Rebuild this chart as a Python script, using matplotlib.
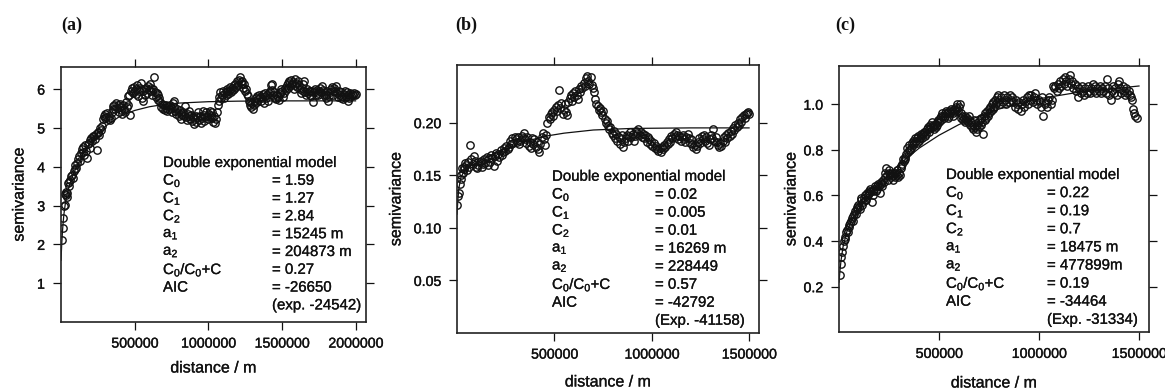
import matplotlib
matplotlib.use('Agg')
import matplotlib.pyplot as plt
import matplotlib.patheffects as pe

plt.rcParams['font.family'] = ['Liberation Sans', 'DejaVu Sans']
plt.rcParams['mathtext.fontset'] = 'custom'
plt.rcParams['mathtext.rm'] = 'Liberation Sans'
plt.rcParams['mathtext.it'] = 'Liberation Sans'
plt.rcParams['mathtext.default'] = 'regular'

# ---------------- data (distance in km, semivariance) ----------------
dist_a_km = [
    8, 12, 16, 20, 24, 28, 32, 36, 40, 44,
    48, 52, 56, 62, 68, 74, 80, 86, 92, 98,
    104, 110, 116, 122, 128, 134, 140, 146, 152, 158,
    164, 170, 176, 182, 188, 194, 200, 206, 212, 218,
    224, 230, 236, 242, 248, 254, 260, 266, 272, 278,
    284, 290, 296, 302, 308, 314, 320, 326, 332, 338,
    344, 350, 356, 362, 368, 374, 380, 386, 392, 398,
    404, 410, 416, 422, 428, 434, 440, 446, 452, 458,
    464, 470, 476, 482, 488, 494, 500, 506, 512, 518,
    524, 530, 536, 542, 548, 554, 560, 566, 572, 578,
    584, 590, 596, 602, 608, 614, 620, 626, 632, 638,
    644, 650, 656, 662, 668, 674, 680, 686, 692, 698,
    704, 710, 716, 722, 728, 734, 740, 746, 752, 758,
    764, 770, 776, 782, 788, 794, 800, 806, 812, 818,
    824, 830, 836, 842, 848, 854, 860, 866, 872, 878,
    884, 890, 896, 902, 908, 914, 920, 926, 932, 938,
    944, 950, 956, 962, 968, 974, 980, 986, 992, 998,
    1004, 1010, 1016, 1022, 1028, 1034, 1040, 1046, 1052, 1058,
    1064, 1070, 1076, 1082, 1088, 1094, 1100, 1106, 1112, 1118,
    1124, 1130, 1136, 1142, 1148, 1154, 1160, 1166, 1172, 1178,
    1184, 1190, 1196, 1202, 1208, 1214, 1220, 1226, 1232, 1238,
    1244, 1250, 1256, 1262, 1268, 1274, 1280, 1286, 1292, 1298,
    1304, 1310, 1316, 1322, 1328, 1334, 1340, 1346, 1352, 1358,
    1364, 1370, 1376, 1382, 1388, 1394, 1400, 1406, 1412, 1418,
    1424, 1430, 1436, 1442, 1448, 1454, 1460, 1466, 1472, 1478,
    1484, 1490, 1496, 1502, 1508, 1514, 1520, 1526, 1532, 1538,
    1544, 1550, 1556, 1562, 1568, 1574, 1580, 1586, 1592, 1598,
    1604, 1610, 1616, 1622, 1628, 1634, 1640, 1646, 1652, 1658,
    1664, 1670, 1676, 1682, 1688, 1694, 1700, 1706, 1712, 1718,
    1724, 1730, 1736, 1742, 1748, 1754, 1760, 1766, 1772, 1778,
    1784, 1790, 1796, 1802, 1808, 1814, 1820, 1826, 1832, 1838,
    1844, 1850, 1856, 1862, 1868, 1874, 1880, 1886, 1892, 1898,
    1904, 1910, 1916, 1922, 1928, 1934, 1940, 1946, 1952, 1958,
    1964, 1970, 1976, 1982, 1988, 1994, 2000]
gamma_a = [
    2.12, 2.42, 2.68, 2.98, 3.02, 3.30, 3.26, 3.36, 3.22, 3.33,
    3.58, 3.50, 3.60, 3.66, 3.75, 3.80, 3.72, 3.88, 3.95, 4.05,
    3.98, 4.10, 4.20, 4.28, 4.14, 4.35, 4.45, 4.50, 4.38, 4.30,
    4.55, 4.40, 4.22, 4.58, 4.62, 4.48, 4.70, 4.74, 4.66, 4.78,
    4.80, 4.72, 4.84, 4.44, 4.86, 4.90, 4.82, 5.00, 4.95, 5.05,
    5.22, 5.30, 5.26, 5.35, 5.28, 5.38, 5.22, 5.30, 5.20, 5.26,
    5.42, 5.56, 5.50, 5.60, 5.48, 5.64, 5.52, 5.58, 5.40, 5.62,
    5.55, 5.45, 5.36, 5.60, 5.50, 5.42, 5.66, 5.54, 5.82, 5.60,
    5.86, 5.34, 5.96, 6.04, 5.90, 6.06, 5.96, 6.00, 5.88, 6.10,
    5.82, 5.94, 6.04, 6.16, 5.76, 5.96, 5.70, 6.00, 5.84, 6.02,
    5.90, 6.08, 5.98, 6.12, 5.94, 6.04, 5.86, 6.00, 6.32, 5.92,
    5.80, 5.90, 5.72, 5.84, 5.76, 5.68, 5.54, 5.62, 5.50, 5.60,
    5.46, 5.58, 5.52, 5.44, 5.56, 5.48, 5.60, 5.52, 5.40, 5.64,
    5.70, 5.55, 5.44, 5.36, 5.50, 5.42, 5.30, 5.46, 5.38, 5.22,
    5.34, 5.40, 5.30, 5.56, 5.28, 5.20, 5.36, 5.44, 5.30, 5.22,
    5.34, 5.18, 5.28, 5.10, 5.24, 5.32, 5.16, 5.28, 5.40, 5.20,
    5.30, 5.14, 5.26, 5.44, 5.34, 5.18, 5.28, 5.40, 5.30, 5.22,
    5.36, 5.44, 5.30, 5.26, 5.40, 5.16, 5.30, 5.12, 5.24, 5.40,
    5.58, 5.70, 5.80, 5.92, 5.76, 5.86, 5.96, 5.78, 5.90, 5.84,
    5.94, 6.00, 5.88, 5.96, 6.06, 5.92, 6.02, 5.98, 6.10, 6.00,
    6.14, 6.06, 6.20, 6.10, 6.24, 6.30, 6.18, 6.12, 6.22, 6.04,
    6.12, 5.96, 6.00, 5.88, 5.82, 5.70, 5.60, 5.66, 5.54, 5.64,
    5.50, 5.60, 5.70, 5.78, 5.66, 5.82, 5.74, 5.86, 5.80, 5.70,
    5.76, 5.88, 5.64, 5.82, 5.90, 5.76, 5.84, 5.70, 5.90, 5.96,
    6.10, 6.12, 5.98, 5.86, 5.92, 5.78, 5.74, 5.86, 5.80, 5.72,
    5.92, 5.88, 6.00, 5.94, 5.80, 5.90, 6.04, 5.98, 6.10, 6.16,
    6.02, 6.20, 6.08, 6.24, 6.12, 6.18, 6.00, 6.10, 6.26, 6.16,
    6.06, 6.22, 6.10, 6.00, 5.90, 6.04, 5.96, 6.12, 6.20, 5.92,
    5.84, 6.00, 5.90, 5.96, 5.86, 5.94, 5.82, 5.96, 5.68, 5.92,
    6.00, 5.86, 5.98, 5.90, 5.84, 5.96, 6.04, 5.92, 6.08, 5.98,
    5.86, 5.90, 5.78, 5.84, 5.96, 5.70, 5.82, 5.92, 6.00, 6.06,
    5.94, 5.86, 6.02, 5.96, 6.08, 5.90, 5.80, 5.94, 5.86, 5.76,
    5.92, 5.82, 5.74, 5.88, 5.96, 5.80, 5.92, 5.70, 5.84, 5.78,
    5.90, 5.82, 5.88, 5.86, 5.90, 5.84, 5.88]
fit_a_km = [0, 5, 10, 15, 20, 30, 40, 60, 80, 100, 150, 200, 250, 300, 400,
            500, 600, 700, 800, 1000, 1200, 1500, 2000]
fit_a = [1.59, 2.013, 2.336, 2.585, 2.783, 3.069, 3.272, 3.556, 3.771, 3.954,
         4.334, 4.63, 4.862, 5.04, 5.30, 5.45, 5.546, 5.605, 5.64, 5.676,
         5.69, 5.697, 5.698]

dist_b_km = [
    2, 6, 10, 14, 18, 22, 26, 30, 34, 38,
    42, 46, 50, 56, 62, 68, 74, 80, 86, 92,
    98, 104, 110, 116, 122, 128, 134, 140, 146, 152,
    158, 164, 170, 176, 182, 188, 194, 200, 206, 212,
    218, 224, 230, 236, 242, 248, 254, 260, 266, 272,
    278, 284, 290, 296, 302, 308, 314, 320, 326, 332,
    338, 344, 350, 356, 362, 368, 374, 380, 386, 392,
    398, 404, 410, 416, 422, 428, 434, 440, 446, 452,
    458, 464, 470, 476, 482, 488, 494, 500, 506, 512,
    518, 524, 530, 536, 542, 548, 554, 560, 566, 572,
    578, 584, 590, 596, 602, 608, 614, 620, 626, 632,
    638, 644, 650, 656, 662, 668, 674, 680, 686, 692,
    698, 704, 710, 716, 722, 728, 734, 740, 746, 752,
    758, 764, 770, 776, 782, 788, 794, 800, 806, 812,
    818, 824, 830, 836, 842, 848, 854, 860, 866, 872,
    878, 884, 890, 896, 902, 908, 914, 920, 926, 932,
    938, 944, 950, 956, 962, 968, 974, 980, 986, 992,
    998, 1004, 1010, 1016, 1022, 1028, 1034, 1040, 1046, 1052,
    1058, 1064, 1070, 1076, 1082, 1088, 1094, 1100, 1106, 1112,
    1118, 1124, 1130, 1136, 1142, 1148, 1154, 1160, 1166, 1172,
    1178, 1184, 1190, 1196, 1202, 1208, 1214, 1220, 1226, 1232,
    1238, 1244, 1250, 1256, 1262, 1268, 1274, 1280, 1286, 1292,
    1298, 1304, 1310, 1316, 1322, 1328, 1334, 1340, 1346, 1352,
    1358, 1364, 1370, 1376, 1382, 1388, 1394, 1400, 1406, 1412,
    1418, 1424, 1430, 1436, 1442, 1448, 1454, 1460, 1466, 1472,
    1478, 1484, 1490, 1496, 1500]
gamma_b = [
    0.122, 0.130, 0.133, 0.142, 0.146, 0.150, 0.157, 0.152, 0.158, 0.156,
    0.162, 0.160, 0.155, 0.163, 0.158, 0.179, 0.165, 0.161, 0.168, 0.164,
    0.158, 0.157, 0.160, 0.163, 0.164, 0.158, 0.161, 0.165, 0.162, 0.167,
    0.160, 0.166, 0.163, 0.169, 0.166, 0.159, 0.168, 0.171, 0.164, 0.170,
    0.167, 0.174, 0.169, 0.172, 0.176, 0.173, 0.178, 0.175, 0.177, 0.183,
    0.180, 0.185, 0.181, 0.186, 0.184, 0.182, 0.186, 0.180, 0.183, 0.187,
    0.185, 0.190, 0.184, 0.181, 0.186, 0.178, 0.182, 0.176, 0.185, 0.180,
    0.184, 0.177, 0.182, 0.175, 0.172, 0.180, 0.186, 0.190, 0.184, 0.179,
    0.188, 0.200, 0.205, 0.203, 0.208, 0.210, 0.206, 0.212, 0.215, 0.211,
    0.217, 0.231, 0.214, 0.219, 0.208, 0.212, 0.218, 0.210, 0.207, 0.220,
    0.223, 0.226, 0.221, 0.228, 0.224, 0.230, 0.226, 0.222, 0.232, 0.229,
    0.235, 0.233, 0.238, 0.235, 0.242, 0.244, 0.240, 0.237, 0.243, 0.236,
    0.233, 0.229, 0.222, 0.218, 0.216, 0.212, 0.214, 0.210, 0.207, 0.211,
    0.203, 0.200, 0.202, 0.197, 0.194, 0.196, 0.190, 0.188, 0.192, 0.185,
    0.189, 0.183, 0.186, 0.180, 0.184, 0.188, 0.177, 0.182, 0.185, 0.188,
    0.183, 0.187, 0.191, 0.186, 0.189, 0.183, 0.187, 0.192, 0.190, 0.194,
    0.188, 0.191, 0.186, 0.189, 0.185, 0.188, 0.182, 0.186, 0.184, 0.180,
    0.183, 0.178, 0.181, 0.176, 0.178, 0.175, 0.173, 0.176, 0.172, 0.177,
    0.175, 0.179, 0.177, 0.182, 0.180, 0.184, 0.182, 0.187, 0.185, 0.189,
    0.186, 0.191, 0.188, 0.184, 0.187, 0.183, 0.186, 0.188, 0.184, 0.182,
    0.186, 0.189, 0.185, 0.181, 0.184, 0.180, 0.177, 0.179, 0.175, 0.178,
    0.182, 0.185, 0.181, 0.187, 0.184, 0.188, 0.183, 0.186, 0.181, 0.179,
    0.184, 0.188, 0.185, 0.194, 0.183, 0.186, 0.182, 0.179, 0.177, 0.181,
    0.178, 0.183, 0.186, 0.182, 0.188, 0.185, 0.190, 0.187, 0.192, 0.189,
    0.195, 0.193, 0.198, 0.196, 0.200, 0.198, 0.203, 0.201, 0.205, 0.207,
    0.204, 0.208, 0.209, 0.210, 0.208]
fit_b_km = [0, 5, 10, 20, 40, 80, 150, 250, 350, 450, 550, 700, 900, 1200, 1500]
fit_b = [0.113, 0.128, 0.138, 0.148, 0.155, 0.160, 0.167, 0.175, 0.182, 0.187,
         0.190, 0.193, 0.1945, 0.195, 0.195]

dist_c_km = [
    4, 8, 12, 16, 20, 24, 28, 32, 36, 40,
    44, 48, 52, 56, 60, 64, 68, 72, 76, 80,
    84, 88, 92, 96, 100, 104, 108, 112, 116, 120,
    124, 128, 132, 136, 140, 144, 148, 152, 156, 160,
    164, 168, 172, 176, 180, 184, 188, 192, 196, 200,
    204, 208, 212, 216, 220, 224, 228, 232, 236, 240,
    244, 248, 252, 256, 260, 264, 268, 272, 276, 280,
    284, 288, 292, 296, 300, 304, 308, 312, 316, 320,
    324, 328, 332, 336, 340, 344, 348, 352, 356, 360,
    364, 368, 372, 376, 380, 384, 388, 392, 396, 400,
    404, 408, 412, 416, 420, 424, 428, 432, 436, 440,
    444, 448, 452, 456, 460, 464, 468, 472, 476, 480,
    484, 488, 492, 496, 500, 504, 508, 512, 516, 520,
    524, 528, 532, 536, 540, 544, 548, 552, 556, 560,
    564, 568, 572, 576, 580, 584, 588, 592, 596, 600,
    604, 608, 612, 616, 620, 624, 628, 632, 636, 640,
    644, 648, 652, 656, 660, 664, 668, 672, 676, 680,
    684, 688, 692, 696, 700, 704, 708, 712, 716, 720,
    724, 728, 732, 736, 740, 744, 748, 752, 756, 760,
    764, 768, 772, 776, 780, 784, 788, 792, 796, 800,
    806, 812, 818, 824, 830, 836, 842, 848, 854, 860,
    866, 872, 878, 884, 890, 896, 902, 908, 914, 920,
    926, 932, 938, 944, 950, 956, 962, 968, 974, 980,
    986, 992, 998, 1004, 1010, 1016, 1022, 1028, 1034, 1040,
    1046, 1052, 1058, 1064, 1070, 1076, 1082, 1088, 1094, 1100,
    1106, 1112, 1118, 1124, 1130, 1136, 1142, 1148, 1154, 1160,
    1166, 1172, 1178, 1184, 1190, 1196, 1202, 1208, 1214, 1220,
    1226, 1232, 1238, 1244, 1250, 1256, 1262, 1268, 1274, 1280,
    1286, 1292, 1298, 1304, 1310, 1316, 1322, 1328, 1334, 1340,
    1346, 1352, 1358, 1364, 1370, 1376, 1382, 1388, 1394, 1400,
    1406, 1412, 1418, 1424, 1430, 1436, 1442, 1448, 1454, 1460,
    1464, 1470, 1476, 1482, 1488]
gamma_c = [
    0.25, 0.30, 0.33, 0.35, 0.38, 0.40, 0.41, 0.42, 0.44, 0.45,
    0.44, 0.46, 0.47, 0.48, 0.49, 0.50, 0.49, 0.51, 0.52, 0.53,
    0.52, 0.54, 0.55, 0.56, 0.55, 0.54, 0.59, 0.58, 0.56, 0.57,
    0.59, 0.58, 0.60, 0.58, 0.61, 0.60, 0.62, 0.61, 0.63, 0.62,
    0.57, 0.60, 0.62, 0.63, 0.64, 0.62, 0.64, 0.63, 0.65, 0.64,
    0.61, 0.65, 0.66, 0.64, 0.67, 0.66, 0.68, 0.70, 0.72, 0.69,
    0.67, 0.70, 0.71, 0.69, 0.68, 0.70, 0.67, 0.69, 0.70, 0.68,
    0.70, 0.69, 0.71, 0.68, 0.70, 0.69, 0.73, 0.72, 0.74, 0.76,
    0.75, 0.77, 0.76, 0.78, 0.81, 0.79, 0.80, 0.82, 0.80, 0.81,
    0.83, 0.82, 0.84, 0.83, 0.85, 0.84, 0.83, 0.85, 0.86, 0.84,
    0.85, 0.87, 0.86, 0.85, 0.87, 0.88, 0.86, 0.88, 0.87, 0.89,
    0.90, 0.88, 0.89, 0.91, 0.90, 0.92, 0.91, 0.90, 0.89, 0.91,
    0.90, 0.92, 0.91, 0.93, 0.92, 0.94, 0.95, 0.93, 0.96, 0.95,
    0.94, 0.96, 0.95, 0.97, 0.96, 0.94, 0.95, 0.97, 0.96, 0.98,
    0.97, 0.95, 0.96, 0.98, 0.97, 0.99, 0.98, 1.00, 0.97, 0.99,
    1.00, 0.96, 0.94, 0.95, 0.93, 0.94, 0.92, 0.95, 0.93, 0.94,
    0.92, 0.95, 0.93, 0.91, 0.92, 0.90, 0.91, 0.89, 0.93, 0.90,
    0.88, 0.91, 0.89, 0.92, 0.90, 0.93, 0.91, 0.94, 0.92, 0.87,
    0.95, 0.93, 0.96, 0.94, 0.97, 0.95, 0.98, 0.96, 0.99, 0.97,
    1.00, 0.98, 1.01, 0.99, 1.02, 1.00, 1.03, 1.01, 1.04, 1.02,
    1.00, 1.03, 1.01, 1.04, 1.02, 1.00, 1.03, 1.01, 1.04, 1.02,
    1.03, 1.01, 0.99, 1.02, 1.00, 0.98, 1.01, 0.97, 1.00, 1.02,
    0.99, 1.01, 1.03, 1.00, 1.04, 1.02, 1.04, 1.01, 1.03, 1.05,
    1.02, 1.00, 1.02, 1.01, 0.99, 1.03, 0.95, 1.00, 1.01, 0.99,
    1.02, 1.03, 1.00, 1.02, 1.08, 1.07, 1.08, 1.06, 1.09, 1.07,
    1.10, 1.08, 1.11, 1.09, 1.12, 1.10, 1.08, 1.11, 1.13, 1.09,
    1.10, 1.07, 1.09, 1.06, 1.08, 1.03, 1.07, 1.05, 1.08, 1.06,
    1.04, 1.07, 1.05, 1.08, 1.06, 1.05, 1.07, 1.09, 1.06, 1.08,
    1.05, 1.07, 1.06, 1.08, 1.05, 1.07, 1.06, 1.08, 1.05, 1.11,
    1.07, 1.04, 1.02, 1.06, 1.08, 1.05, 1.07, 1.04, 1.09, 1.10,
    1.07, 1.05, 1.08, 1.06, 1.04, 1.07, 1.05, 1.06, 1.04, 1.03,
    1.02, 0.98, 0.96, 0.95, 0.94]
fit_c_km = [0, 5, 10, 20, 40, 60, 100, 150, 200, 300, 400, 500, 600, 700, 800,
            1000, 1200, 1500]
fit_c = [0.22, 0.272, 0.314, 0.374, 0.444, 0.485, 0.541, 0.599, 0.649, 0.736,
         0.807, 0.864, 0.911, 0.948, 0.979, 1.024, 1.053, 1.080]

panel_labels = ['(a)', '(b)', '(c)']
param_names = ['C$_0$', 'C$_1$', 'C$_2$', 'a$_1$', 'a$_2$', 'C$_0$/C$_0$+C', 'AIC']
param_vals_a = ['= 1.59', '= 1.27', '= 2.84', '= 15245 m', '= 204873 m', '= 0.27', '= -26650']
param_vals_b = ['= 0.02', '= 0.005', '= 0.01', '= 16269 m', '= 228449', '= 0.57', '= -42792']
param_vals_c = ['= 0.22', '= 0.19', '= 0.7', '= 18475 m', '= 477899m', '= 0.19', '= -34464']
exp_a = '(exp. -24542)'
exp_b = '(Exp. -41158)'
exp_c = '(Exp. -31334)'

xticks_a = [500000, 1000000, 1500000, 2000000]
xticks_bc = [500000, 1000000, 1500000]
yticks_a = [1, 2, 3, 4, 5, 6]
yticks_b = [0.05, 0.10, 0.15, 0.20]
yticks_c = [0.2, 0.4, 0.6, 0.8, 1.0]

# ---------------- figure ----------------
W, H = 1165, 389
fig = plt.figure(figsize=(W / 100, H / 100), dpi=100)
ink = '#111111'
heavy = [pe.withStroke(linewidth=0.2, foreground=ink)]


def rect(l, r, t, b):
    return [l / W, 1 - b / H, (r - l) / W, (b - t) / H]


def ftxt(x, y, s, stroke=True, **kw):
    t = fig.text(x / W, 1 - y / H, s, **kw)
    if stroke:
        t.set_path_effects(heavy)
    return t


panels = [
    dict(rect=rect(61, 366, 67, 322), xlim=(0, 2071000), ylim=(0, 6.57),
         d=dist_a_km, g=gamma_a, fd=fit_a_km, f=fit_a, xt=xticks_a, yt=yticks_a,
         yfmt='{:g}', vals=param_vals_a, exp=exp_a,
         tx=163, eqx=272, ty=163, dy=17.8, lab=(72, 25), ylx=19, xly=368),
    dict(rect=rect(457, 759, 65, 333), xlim=(0, 1551000), ylim=(0, 0.2548),
         d=dist_b_km, g=gamma_b, fd=fit_b_km, f=fit_b, xt=xticks_bc, yt=yticks_b,
         yfmt='{:.2f}', vals=param_vals_b, exp=exp_b,
         tx=552, eqx=655, ty=176.7, dy=18.0, lab=(466, 25), ylx=396, xly=382),
    dict(rect=rect(839, 1149, 65.7, 332.3), xlim=(0, 1550000), ylim=(0, 1.169),
         d=dist_c_km, g=gamma_c, fd=fit_c_km, f=fit_c, xt=xticks_bc, yt=yticks_c,
         yfmt='{:.1f}', vals=param_vals_c, exp=exp_c,
         tx=946, eqx=1047, ty=175, dy=18.1, lab=(845, 25), ylx=791, xly=383),
]

for i, p in enumerate(panels):
    ax = fig.add_axes(p['rect'])
    ax.plot([v * 1000 for v in p['d']], p['g'], linestyle='none', marker='o',
            markersize=5.3, markerfacecolor='none', markeredgecolor=ink,
            markeredgewidth=1.0, clip_on=True)
    ax.plot([v * 1000 for v in p['fd']], p['f'], color=ink, lw=0.9)
    ax.set_xlim(*p['xlim'])
    ax.set_ylim(*p['ylim'])
    ax.set_xticks(p['xt'])
    ax.set_xticklabels([str(v) for v in p['xt']])
    ax.set_yticks(p['yt'])
    ax.set_yticklabels([p['yfmt'].format(v) for v in p['yt']])
    ax.tick_params(axis='both', which='major', direction='out', length=6,
                   width=0.9, color=ink, labelsize=10.2, labelcolor=ink,
                   top=True, right=True, labeltop=False, labelright=False)
    ax.tick_params(axis='x', pad=4.5)
    ax.tick_params(axis='y', pad=5.5)
    for lbl in ax.get_xticklabels() + ax.get_yticklabels():
        lbl.set_path_effects([pe.withStroke(linewidth=0.25, foreground=ink)])
    for s in ax.spines.values():
        s.set_linewidth(1.2)
        s.set_color('#222222')

    # annotation block
    fs = 10.8
    ftxt(p['tx'], p['ty'], 'Double exponential model', fontsize=fs,
         va='center', ha='left', color=ink)
    for k, (nm, vl) in enumerate(zip(param_names, p['vals'])):
        yy = p['ty'] + (k + 1) * p['dy']
        ftxt(p['tx'], yy, nm, fontsize=fs, va='center', ha='left', color=ink)
        ftxt(p['eqx'], yy, vl, fontsize=fs, va='center', ha='left', color=ink)
    ftxt(p['eqx'], p['ty'] + 8 * p['dy'], p['exp'], fontsize=fs, va='center',
         ha='left', color=ink)

    # labels
    ftxt(p['lab'][0], p['lab'][1], panel_labels[i], stroke=False, fontsize=13,
         family=['Liberation Serif', 'DejaVu Serif'], fontweight='bold',
         ha='center', va='center', color=ink)
    cy = (1 - (p['rect'][1] + p['rect'][3] / 2)) * H
    ftxt(p['ylx'], cy, 'semivariance', fontsize=11.5, rotation=90,
         ha='center', va='center', color=ink)
    cx = (p['rect'][0] + p['rect'][2] / 2) * W
    ftxt(cx, p['xly'], 'distance / m', fontsize=11.5, ha='center', va='center',
         color=ink)

fig.savefig('out.png', dpi=100, facecolor='white')
